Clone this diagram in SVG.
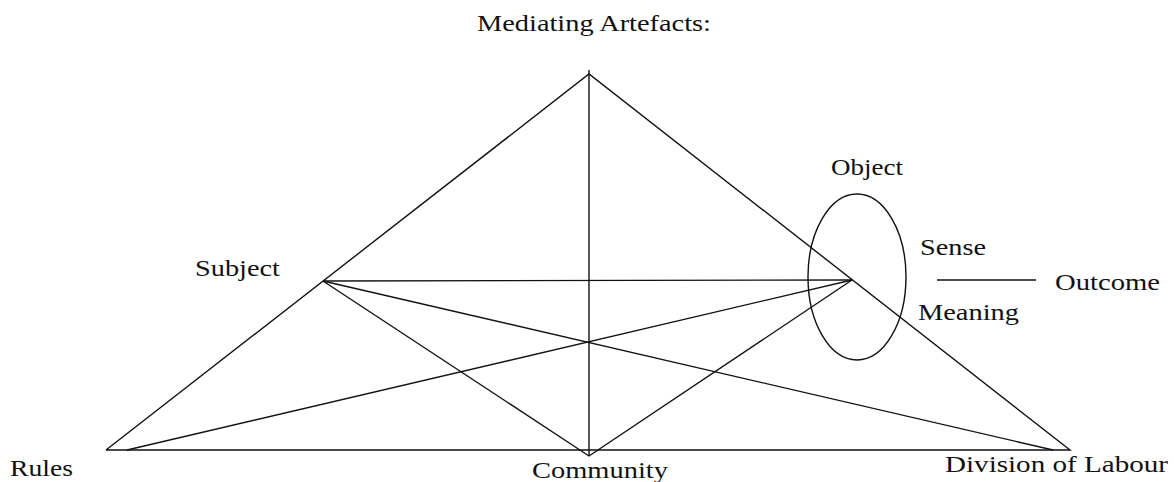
<svg xmlns="http://www.w3.org/2000/svg" width="1174" height="482" viewBox="0 0 1174 482">
  <style>
    .ln { stroke: #111; stroke-width: 1.4; fill: none; }
    .lbl { font-family: "Liberation Serif", "Times New Roman", serif; font-size: 23px; fill: #111; }
  </style>
  <rect width="1174" height="482" fill="#fff"/>

  <!-- connectors -->
  <g id="connectors">
    <!-- outer triangle -->
    <polyline class="ln" points="106,450 589,74 1070,450 106,450"/>
    <!-- central vertical from artefacts to community -->
    <line class="ln" x1="589" y1="70" x2="589" y2="456"/>
    <!-- subject to object -->
    <line class="ln" x1="323" y1="281" x2="852" y2="280"/>
    <!-- subject to community, object to community -->
    <polyline class="ln" points="323,281 589,456 852,280"/>
    <!-- subject to division of labour -->
    <line class="ln" x1="323" y1="281" x2="1053" y2="450"/>
    <!-- rules to object -->
    <line class="ln" x1="127" y1="450" x2="852" y2="280"/>
    <!-- object to outcome -->
    <line class="ln" x1="937" y1="280" x2="1036" y2="280"/>
  </g>

  <g id="object-ellipse">
    <ellipse class="ln" cx="857" cy="277" rx="49" ry="83"/>
  </g>

  <g id="mediating-artefacts"><text class="lbl" x="477" y="31" textLength="234" lengthAdjust="spacingAndGlyphs">Mediating Artefacts:</text></g>
  <g id="subject"><text class="lbl" x="195" y="276" textLength="85" lengthAdjust="spacingAndGlyphs">Subject</text></g>
  <g id="object"><text class="lbl" x="831" y="175" textLength="72" lengthAdjust="spacingAndGlyphs">Object</text></g>
  <g id="sense"><text class="lbl" x="920" y="255" textLength="66" lengthAdjust="spacingAndGlyphs">Sense</text></g>
  <g id="meaning"><text class="lbl" x="918" y="320" textLength="101" lengthAdjust="spacingAndGlyphs">Meaning</text></g>
  <g id="outcome"><text class="lbl" x="1055" y="290" textLength="105" lengthAdjust="spacingAndGlyphs">Outcome</text></g>
  <g id="rules"><text class="lbl" x="10" y="476" textLength="63" lengthAdjust="spacingAndGlyphs">Rules</text></g>
  <g id="community"><text class="lbl" x="532" y="478" textLength="136" lengthAdjust="spacingAndGlyphs">Community</text></g>
  <g id="division-of-labour"><text class="lbl" x="945" y="472" textLength="223" lengthAdjust="spacingAndGlyphs">Division of Labour</text></g>
</svg>
